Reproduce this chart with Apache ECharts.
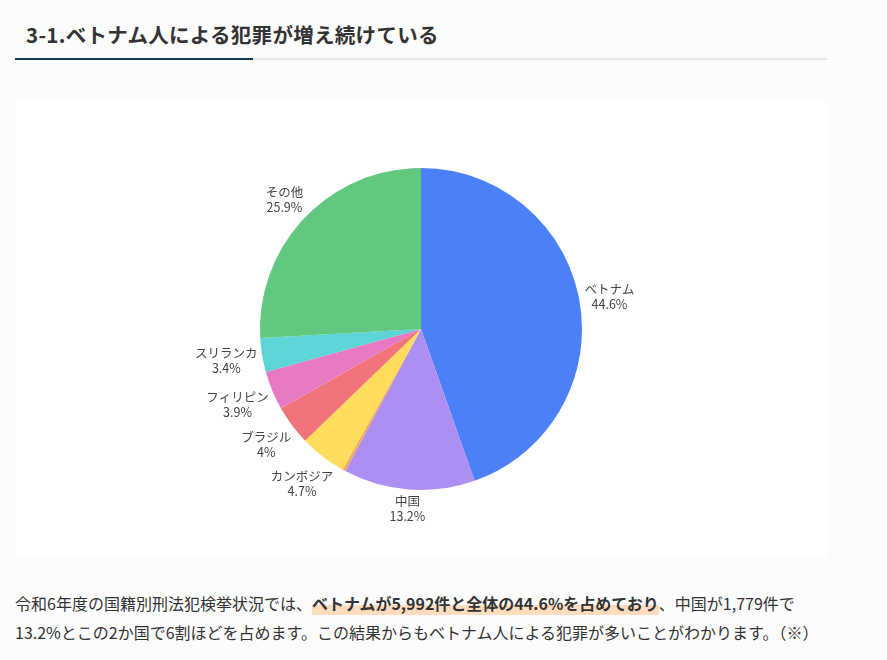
<!DOCTYPE html>
<html lang="ja">
<head>
<meta charset="utf-8">
<script src="https://cdn.jsdelivr.net/npm/echarts@6/dist/echarts.min.js"></script>
<style>
  html, body { margin: 0; padding: 0; background: #fcfcfc; }
  body { width: 887px; height: 660px; position: relative; overflow: hidden;
         font-family: "Noto Sans CJK JP", "Noto Sans", sans-serif; color: #333; }
  .ttl { position: absolute; left: 26px; top: 19px; margin: 0; font-size: 20.5px; font-weight: bold; color: #333; letter-spacing: 0.3px; }
  .bar { position: absolute; left: 15px; top: 58px; width: 812px; height: 2px; background: #e6e6e6; }
  .bar span { display: block; width: 238px; height: 2px; background: #0f3b4a; }
  #chartmain { position: absolute; left: 15px; top: 101px; width: 812px; height: 456px; background: #fff; }
  .txt { position: absolute; left: 15px; top: 589px; width: 870px; font-size: 16px; line-height: 29px; margin: 0; color: #333; }
  .txt b { background: linear-gradient(transparent 58%, #ffdcbd 58%); }
</style>
</head>
<body>
<h2 class="ttl">3-1.ベトナム人による犯罪が増え続けている</h2>
<div class="bar"><span></span></div>
<div id="chartmain"></div>
<p class="txt">令和6年度の国籍別刑法犯検挙状況では、<b>ベトナムが5,992件と全体の44.6%を占めており</b>、中国が1,779件で<br>13.2%とこの2か国で6割ほどを占めます。この結果からもベトナム人による犯罪が多いことがわかります。（※）</p>
<script>
// 国籍別の割合（%）
var names = ['ベトナム', '中国', '', 'カンボジア', 'ブラジル', 'フィリピン', 'スリランカ', 'その他'];
var values = [44.6, 13.2, 0.3, 4.7, 4, 3.9, 3.4, 25.9];
var colors = ['#4b80f6', '#ad8ef2', '#f6a95c', '#ffdd5c', '#f0747a', '#e87ac3', '#5dd4d5', '#62c77f'];

var radius = 161;
var total = 0;
for (var i = 0; i < values.length; i++) total += values[i];

var pieData = [];
for (var i = 0; i < names.length; i++) {
    pieData.push({
        name: names[i],
        value: values[i],
        itemStyle: { color: colors[i] },
        label: { show: names[i] !== '' }
    });
}

var myChart = echarts.init(document.getElementById('chartmain'));

option = {
    animation: false,
    series: [
        {
            type: 'pie',
            center: ['50%', '50%'],
            radius: radius,
            startAngle: 90,
            clockwise: true,
            data: pieData,
            label: {
                position: 'outside',
                color: '#444',
                fontSize: 12.5,
                lineHeight: 15,
                fontFamily: 'Noto Sans CJK JP',
                formatter: function (p) {
                    return p.name + '\n' + p.value + '%';
                }
            },
            labelLine: { show: false, length: 8, length2: 0 },
            // ラベルは扇の中央方向に、外側へ置く
            labelLayout: function (p) {
                var before = 0;
                for (var k = 0; k < p.dataIndex; k++) before += values[k];
                var mid = (before + values[p.dataIndex] / 2) / total * Math.PI * 2;
                var dx = Math.sin(mid), dy = -Math.cos(mid);
                var w = p.labelRect.width, h = p.labelRect.height;
                var d = radius + 3 + Math.abs(dx) * w / 2 + Math.abs(dy) * h / 2;
                return {
                    x: myChart.getWidth() / 2 + dx * d,
                    y: myChart.getHeight() / 2 + dy * d,
                    align: 'center',
                    verticalAlign: 'middle'
                };
            },
            emphasis: { disabled: true }
        }
    ]
};

myChart.setOption(option);
</script>
</body>
</html>
